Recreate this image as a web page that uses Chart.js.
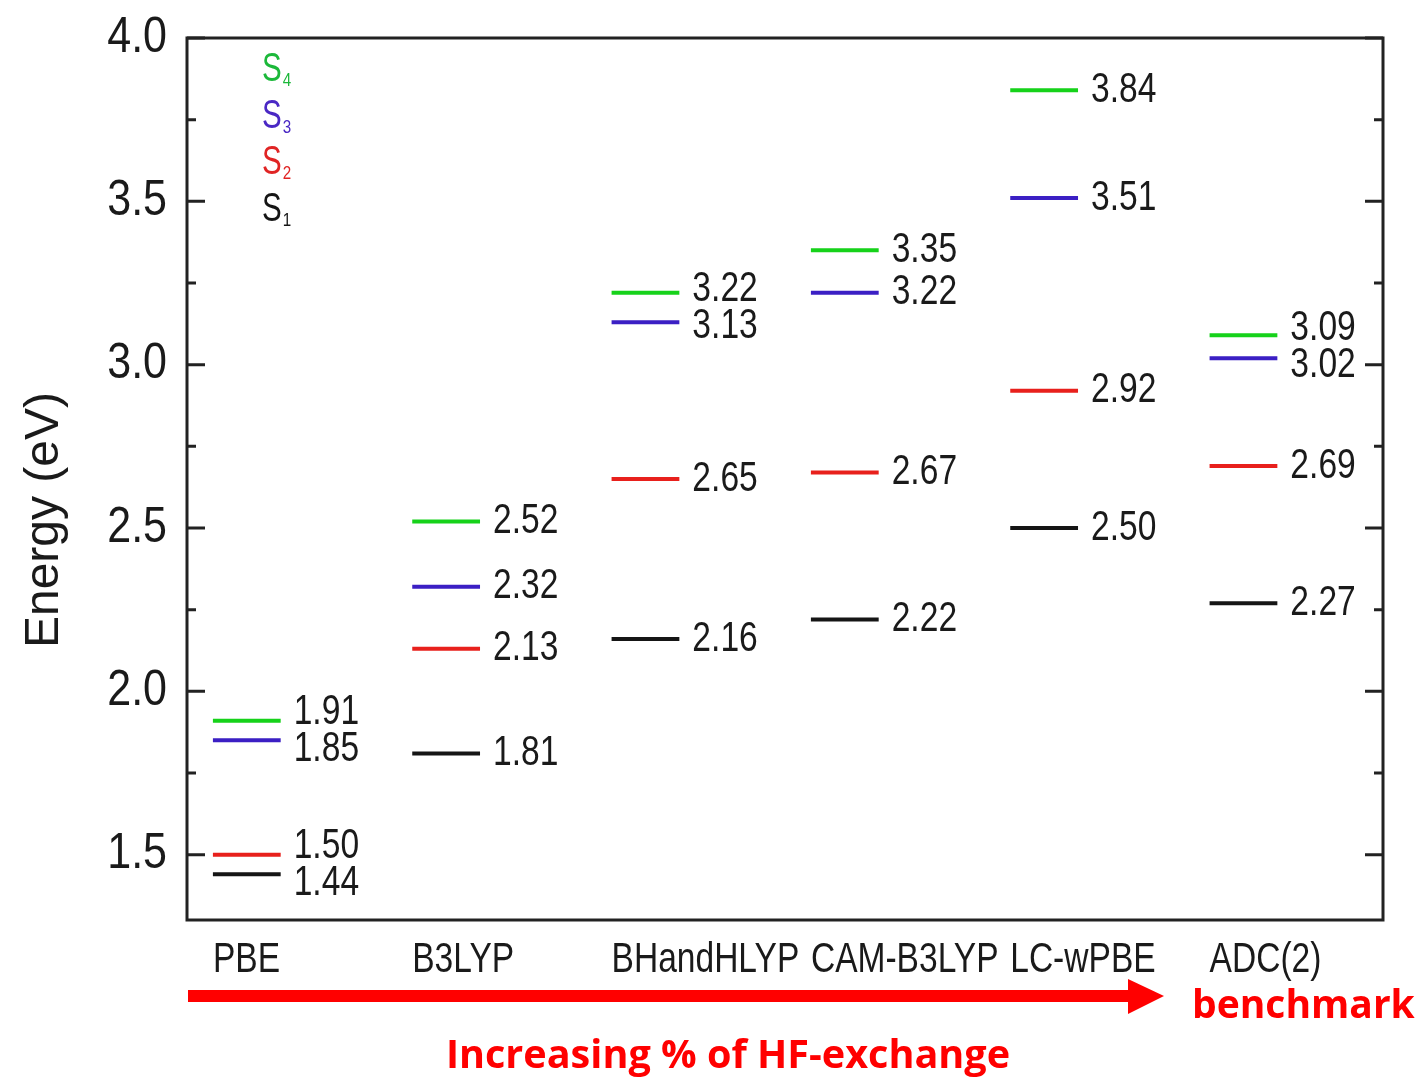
<!DOCTYPE html>
<html>
<head>
<meta charset="utf-8">
<script src="https://cdn.jsdelivr.net/npm/chart.js@4.4.1/dist/chart.umd.min.js"></script>
<style>
  body { margin: 0; background: #fff; }
  #wrap { width: 1418px; height: 1077px; }
</style>
</head>
<body>
<div id="wrap"><canvas id="myCanvas" width="1418" height="1077"></canvas></div>
<script>
// data
const categories = ['PBE', 'B3LYP', 'BHandHLYP', 'CAM-B3LYP', 'LC-wPBE', 'ADC(2)'];
const s1 = [1.44, 1.81, 2.16, 2.22, 2.50, 2.27];
const s2 = [1.50, 2.13, 2.65, 2.67, 2.92, 2.69];
const s3 = [1.85, 2.32, 3.13, 3.22, 3.51, 3.02];
const s4 = [1.91, 2.52, 3.22, 3.35, 3.84, 3.09];
const seriesNames = ['S1', 'S2', 'S3', 'S4'];
const yTickValues = [1.5, 2.0, 2.5, 3.0, 3.5, 4.0];

const colors = ['#151515', '#e8201c', '#3b1fc4', '#16d21a'];
const legendColors = ['#151515', '#e02424', '#4a28c4', '#1cb83a'];
const sans = '"Liberation Sans", Arial, sans-serif';
const segStart = 0.13, segEnd = 0.47;

// each level is a short flat line, gaps between categories
function levelPoints(vals){
  let pts = [];
  vals.forEach((v, i)=>{
    pts.push({x: i + segStart, y: v});
    pts.push({x: i + segEnd, y: v});
    pts.push({x: i + segEnd, y: null});
  });
  return pts;
}

// the original uses a condensed face, so squeeze text sideways
function squeezed(c, text, x, y, sx, align){
  c.save();
  c.translate(x, y);
  c.scale(sx, 1);
  c.textAlign = align;
  c.fillText(text, 0, 0);
  c.restore();
}

const allSeries = [s1, s2, s3, s4];

const decor = {
  id: 'decor',
  afterDatasetsDraw(chart){
    const c = chart.ctx, a = chart.chartArea;
    const ys = chart.scales.y, xs = chart.scales.x;
    c.save();
    // frame
    c.strokeStyle = '#222';
    c.lineWidth = 3;
    c.strokeRect(a.left, a.top, a.right - a.left, a.bottom - a.top);
    // inward ticks, minor in between
    function tick(v, len){
      let y = ys.getPixelForValue(v);
      c.beginPath();
      c.moveTo(a.left, y); c.lineTo(a.left + len, y);
      c.moveTo(a.right, y); c.lineTo(a.right - len, y);
      c.stroke();
    }
    ys.ticks.forEach(t=>{
      tick(t.value, 18);
      if(t.value + 0.25 < ys.max) tick(t.value + 0.25, 9);
    });
    if(ys.getPixelForValue(yTickValues[0] - 0.25) < a.bottom) tick(yTickValues[0] - 0.25, 9);

    // tick labels
    c.fillStyle = '#1a1a1a';
    c.textBaseline = 'middle';
    c.font = '50px ' + sans;
    ys.ticks.forEach(t=>{
      squeezed(c, t.value.toFixed(1), a.left - 20, ys.getPixelForValue(t.value), 0.86, 'right');
    });
    c.font = '43px ' + sans;
    xs.ticks.forEach((t, i)=>{
      squeezed(c, categories[i], xs.getPixelForValue(t.value), a.bottom + 40, 0.78, 'left');
    });

    // value labels, pushed apart when too close
    c.font = '42px ' + sans;
    categories.forEach((cat, i)=>{
      let items = allSeries.map(s => ({v: s[i], y: ys.getPixelForValue(s[i])}));
      items.sort((p, q) => p.y - q.y);
      for(let j = 1; j < items.length; j++){
        if(items[j].y - items[j-1].y < 37){
          let mid = (items[j].y + items[j-1].y) / 2;
          items[j-1].y = mid - 18.5;
          items[j].y = mid + 18.5;
        }
      }
      let x = xs.getPixelForValue(i + segEnd) + 13;
      items.forEach(it => squeezed(c, it.v.toFixed(2), x, it.y, 0.8, 'left'));
    });

    // legend S4..S1
    let lx = a.left + 75, ly = a.top + 32;
    for(let k = seriesNames.length - 1; k >= 0; k--){
      let name = seriesNames[k];
      c.fillStyle = legendColors[k];
      c.font = '41px ' + sans;
      squeezed(c, name[0], lx, ly, 0.72, 'left');
      let w = c.measureText(name[0]).width * 0.72;
      c.font = '19px ' + sans;
      squeezed(c, name.slice(1), lx + w + 1, ly + 11, 0.8, 'left');
      ly += 46.5;
    }

    // axis title
    c.fillStyle = '#1a1a1a';
    c.font = '48px ' + sans;
    c.translate(45, 520);
    c.rotate(-Math.PI / 2);
    c.textAlign = 'center';
    c.fillText('Energy (eV)', 0, 0);
    c.restore();

    // arrow + captions under the axis
    c.save();
    c.fillStyle = '#ff0000';
    c.fillRect(a.left + 1, 990, 941, 12);
    c.beginPath();
    c.moveTo(1128, 979); c.lineTo(1164, 996); c.lineTo(1128, 1014);
    c.closePath();
    c.fill();
    c.textBaseline = 'alphabetic';
    c.textAlign = 'left';
    c.font = 'bold 39px "Open Sans", sans-serif';
    c.fillText('benchmark', 1192, 1018);
    c.textAlign = 'center';
    c.font = 'bold 39.6px "Open Sans", sans-serif';
    c.fillText('Increasing % of HF-exchange', 728, 1068);
    c.restore();
  }
};

const ctx = document.querySelector('#myCanvas').getContext('2d');
const myChart = new Chart(ctx, {
  type: 'line',
  data: {
    datasets: allSeries.map((s, k) => ({
      label: seriesNames[k],
      data: levelPoints(s),
      borderColor: colors[k],
      borderWidth: 4,
      pointRadius: 0,
      spanGaps: false,
      tension: 0
    }))
  },
  options: {
    responsive: false,
    animation: false,
    layout: { padding: { top: 38, right: 0, left: 0, bottom: 0 } },
    plugins: { legend: { display: false }, tooltip: { enabled: false } },
    scales: {
      x: {
        type: 'linear',
        min: 0,
        max: 6,
        afterBuildTicks(scale){
          scale.ticks = categories.map((c, i) => ({value: i + segStart}));
        },
        afterFit(scale){ scale.height = 1077 - 920; },
        ticks: { display: false },
        grid: { display: false, drawTicks: false },
        border: { display: false }
      },
      y: {
        min: 1.3,
        max: 4.0,
        afterBuildTicks(scale){
          scale.ticks = yTickValues.map(v => ({value: v}));
        },
        afterFit(scale){ scale.width = 187; },
        ticks: { display: false },
        grid: { display: false, drawTicks: false },
        border: { display: false }
      },
      y2: {
        position: 'right',
        min: 1.3,
        max: 4.0,
        afterFit(scale){ scale.width = 1418 - 1383; },
        ticks: { display: false },
        grid: { display: false, drawTicks: false },
        border: { display: false }
      }
    }
  },
  plugins: [decor]
});
</script>
</body>
</html>
